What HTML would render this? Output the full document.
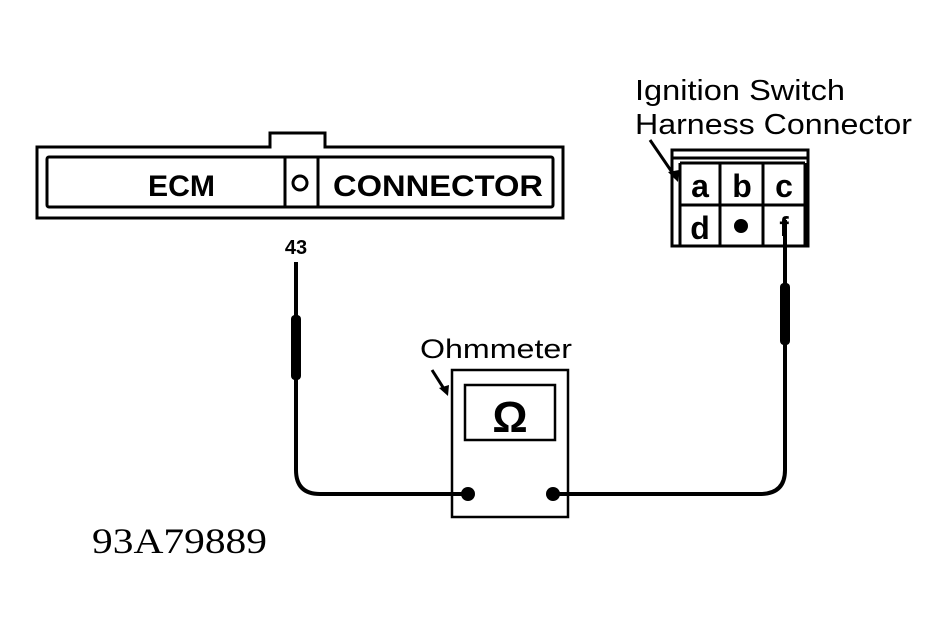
<!DOCTYPE html>
<html><head><style>body{margin:0;background:#fff}svg{display:block}</style></head><body>
<svg width="950" height="628" viewBox="0 0 950 628" xmlns="http://www.w3.org/2000/svg">
<g fill="none" stroke="#000" stroke-width="3">
<path d="M37 147 H270 V133 H325 V147 H563 V218 H37 Z"/>
<rect x="47" y="157" width="506" height="50" rx="2"/>
<line x1="285" y1="157" x2="285" y2="207"/>
<line x1="318" y1="157" x2="318" y2="207"/>
<circle cx="300" cy="183" r="7"/>
<rect x="672" y="150" width="136" height="96" stroke-width="3"/>
<line x1="672" y1="158" x2="808" y2="158"/>
<line x1="680" y1="163" x2="805" y2="163"/>
<line x1="680" y1="205" x2="805" y2="205"/>
<line x1="680" y1="163" x2="680" y2="245"/>
<line x1="720" y1="163" x2="720" y2="245"/>
<line x1="763" y1="163" x2="763" y2="245"/>
<line x1="805" y1="163" x2="805" y2="245"/>
<rect x="452" y="370" width="116" height="147" stroke-width="2.5"/>
<rect x="465" y="385" width="90" height="55" stroke-width="2.5"/>
<path d="M296 262 V470 Q296 494 320 494 H468" stroke-width="4"/>
<path d="M553 494 H760 Q785 494 785 470 V220" stroke-width="4"/>
<line x1="650" y1="140" x2="676" y2="178" stroke-width="3"/>
<line x1="432" y1="370" x2="446" y2="392" stroke-width="3"/>
</g>
<rect x="291" y="315" width="10" height="65" rx="4" fill="#000"/>
<rect x="780" y="283" width="10" height="62" rx="4" fill="#000"/>
<polygon points="678,182 668,172 679,170" fill="#000"/>
<polygon points="448,396 439,388 449,385" fill="#000"/>
<circle cx="468" cy="494" r="7" fill="#000"/>
<circle cx="553" cy="494" r="7" fill="#000"/>
<circle cx="741" cy="226" r="7" fill="#000"/>
<g font-family="Liberation Sans, sans-serif" font-weight="bold" fill="#000">
<text x="148" y="196" font-size="30" textLength="67" lengthAdjust="spacingAndGlyphs">ECM</text>
<text x="333" y="196" font-size="30" textLength="210" lengthAdjust="spacingAndGlyphs">CONNECTOR</text>
<text x="296" y="254" font-size="20" text-anchor="middle">43</text>
<text x="700" y="197" font-size="32" text-anchor="middle">a</text>
<text x="742" y="197" font-size="32" text-anchor="middle">b</text>
<text x="784" y="197" font-size="32" text-anchor="middle">c</text>
<text x="700" y="239" font-size="32" text-anchor="middle">d</text>
<text x="784" y="236" font-size="28" text-anchor="middle">f</text>
<text x="510" y="432" font-size="44" text-anchor="middle">Ω</text>
</g>
<g font-family="Liberation Sans, sans-serif" fill="#000" font-size="29">
<text x="635" y="100" textLength="210" lengthAdjust="spacingAndGlyphs">Ignition Switch</text>
<text x="635" y="134" textLength="277" lengthAdjust="spacingAndGlyphs">Harness Connector</text>
<text x="420" y="358" font-size="27" textLength="152" lengthAdjust="spacingAndGlyphs">Ohmmeter</text>
</g>
<text x="92" y="553" font-family="Liberation Serif, serif" font-size="36" fill="#000" textLength="175" lengthAdjust="spacingAndGlyphs">93A79889</text>
</svg>
</body></html>
